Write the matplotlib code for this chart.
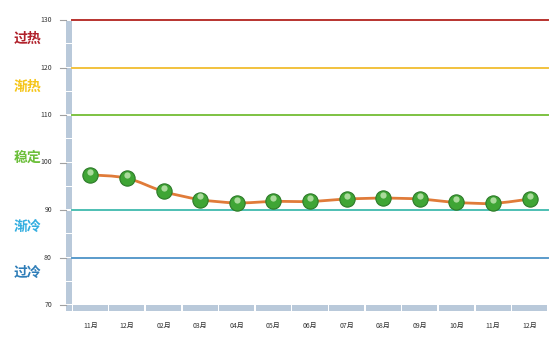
import matplotlib
matplotlib.use("Agg")
import matplotlib.pyplot as plt
from matplotlib.patches import Rectangle
from matplotlib.path import Path
from matplotlib.patches import PathPatch
import matplotlib.transforms as mtransforms

plt.rcParams['font.family'] = ['Noto Sans CJK SC', 'DejaVu Sans']

months = ["11月", "12月", "02月", "03月", "04月", "05月", "06月",
          "07月", "08月", "09月", "10月", "11月", "12月"]
values = [97.4, 96.7, 93.9, 92.2, 91.5, 91.8, 91.8, 92.3, 92.5, 92.3, 91.6, 91.4, 92.3]

levels = [130, 120, 110, 90, 80]
level_colors = ["#B8332F", "#F2C23E", "#7DC242", "#4DBFB3", "#5A9BCB"]
zone_names = ["过热", "渐热", "稳定", "渐冷", "过冷"]
zone_y = [126, 116, 101, 86.5, 76.8]
zone_colors = ["#B0202A", "#F5C518", "#6CBF3A", "#33AEE0", "#2E7DB8"]

fig = plt.figure(figsize=(5.57, 3.45), dpi=100)
ax = fig.add_axes([72/557, 1 - 305/345, 476/557, 285/345])
n = len(months)
ax.set_xlim(-0.5, n - 0.5)
ax.set_ylim(70, 130)
for s in ax.spines.values():
    s.set_visible(False)
ax.set_xticks([])
ax.set_yticks([])

# wall and floor
wall_c = "#B9C9DA"
tr_wall = mtransforms.blended_transform_factory(ax.transAxes, ax.transData)
w = 6 / 476
for lo in range(70, 130, 5):
    ax.add_patch(Rectangle((-w, lo + 0.15), w, 4.7, transform=tr_wall,
                           facecolor=wall_c, edgecolor="none", clip_on=False))
tr_floor = mtransforms.blended_transform_factory(ax.transData, ax.transAxes)
h = 6 / 285
ax.add_patch(Rectangle((-w, -h), w, h, transform=ax.transAxes,
                       facecolor=wall_c, edgecolor="none", clip_on=False))
for i in range(n):
    ax.add_patch(Rectangle((i - 0.5 + 0.02, -h), 0.96, h, transform=tr_floor,
                           facecolor=wall_c, edgecolor="none", clip_on=False))

# y ticks
for v in range(70, 131, 10):
    ax.plot([-12/476, -w], [v, v], transform=tr_wall, color="#A0A0A0",
            lw=0.8, clip_on=False)
    ax.text(-20/476, v, str(v), transform=tr_wall, ha="right", va="center",
            fontsize=5, color="#333333")

# x labels
for i, m in enumerate(months):
    ax.text(i, -21/285, m, transform=tr_floor, ha="center", va="center",
            fontsize=5, color="#333333")

# level lines
for lv, c in zip(levels, level_colors):
    ax.axhline(lv, color=c, lw=1.4, zorder=2, clip_on=False)

# zone names
for name, y, c in zip(zone_names, zone_y, zone_colors):
    ax.text(-58/476, y, name, transform=tr_wall, ha="left", va="center",
            fontsize=10, fontweight="bold", color=c)

# smooth line through points
xs = list(range(n))
verts = [(xs[0], values[0])]
codes = [Path.MOVETO]
for i in range(n - 1):
    p0 = (xs[max(i - 1, 0)], values[max(i - 1, 0)])
    p1 = (xs[i], values[i])
    p2 = (xs[i + 1], values[i + 1])
    p3 = (xs[min(i + 2, n - 1)], values[min(i + 2, n - 1)])
    c1 = (p1[0] + (p2[0] - p0[0]) / 6, p1[1] + (p2[1] - p0[1]) / 6)
    c2 = (p2[0] - (p3[0] - p1[0]) / 6, p2[1] - (p3[1] - p1[1]) / 6)
    verts += [c1, c2, p2]
    codes += [Path.CURVE4] * 3
ax.add_patch(PathPatch(Path(verts, codes), facecolor="none",
                       edgecolor="#E07B39", lw=2.0, zorder=3))

# glossy markers
ax.plot(xs, values, "o", ms=11, mfc="#3FA535", mec="#2C7A28", mew=0.8, zorder=4)
hl = ax.transData + mtransforms.ScaledTranslation(0, 2.4/72, fig.dpi_scale_trans)
ax.plot(xs, values, "o", ms=4.5, mfc="#D8F2C8", mec="none", alpha=0.7,
        transform=hl, zorder=5)

fig.savefig("out.png", dpi=100)
